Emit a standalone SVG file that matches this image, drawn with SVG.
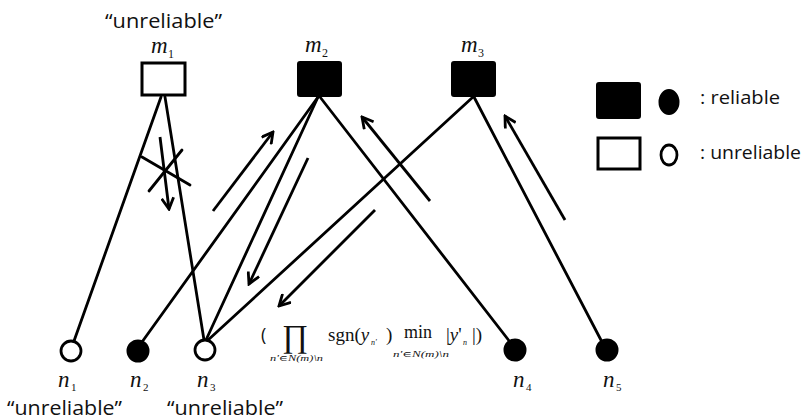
<svg xmlns="http://www.w3.org/2000/svg" width="810" height="420" viewBox="0 0 810 420">
  <defs>
    <marker id="head" viewBox="0 0 14 14" refX="12" refY="7" markerWidth="14" markerHeight="14" markerUnits="userSpaceOnUse" orient="auto">
      <polyline points="1,1 12,7 1,13" fill="none" stroke="#000" stroke-width="2.8" stroke-linejoin="miter"/>
    </marker>
  </defs>
  <style>
    .edge { stroke: #000; stroke-width: 2.8; fill: none; stroke-linecap: round; }
    .arrow { stroke: #000; stroke-width: 2.8; fill: none; marker-end: url(#head); }
    .box-open { fill: #fff; stroke: #000; stroke-width: 3; }
    .box-fill { fill: #000; stroke: #000; stroke-width: 2; }
    .dot-open { fill: #fff; stroke: #000; stroke-width: 2.8; }
    .dot-fill { fill: #000; stroke: #000; stroke-width: 2; }
    .word { font-family: "Open Sans", "Liberation Sans", sans-serif; fill: #111; }
    .math { font-family: "Liberation Serif", "DejaVu Serif", serif; fill: #111; }
    .it { font-style: italic; }
  </style>
  <rect width="810" height="420" fill="#fff"/>

  <!-- connectors -->
  <g id="connectors">
    <line class="edge" x1="161" y1="97" x2="74" y2="341"/>
    <line class="edge" x1="165" y1="97" x2="204" y2="340"/>
    <line class="edge" x1="318" y1="97" x2="142" y2="342"/>
    <line class="edge" x1="318" y1="97" x2="206" y2="340"/>
    <line class="edge" x1="320" y1="97" x2="510" y2="342"/>
    <line class="edge" x1="473" y1="97" x2="207" y2="341"/>
    <line class="edge" x1="474" y1="97" x2="602" y2="342"/>
    <!-- cancelled message from m1 -->
    <line class="edge" x1="142" y1="157" x2="190" y2="185"/>
    <line class="edge" x1="182" y1="150" x2="149" y2="191"/>
    <line class="arrow" x1="160" y1="137" x2="169" y2="209"/>
    <!-- message flow -->
    <line class="arrow" x1="213" y1="211" x2="273" y2="132"/>
    <line class="arrow" x1="308" y1="158" x2="249" y2="284"/>
    <line class="arrow" x1="375" y1="210" x2="279" y2="306"/>
    <line class="arrow" x1="430" y1="201" x2="362" y2="117"/>
    <line class="arrow" x1="565" y1="220" x2="505" y2="116"/>
  </g>

  <!-- check nodes -->
  <g id="m1">
    <text class="word" x="105" y="28" font-size="20" textLength="117" lengthAdjust="spacingAndGlyphs">“unreliable”</text>
    <text class="math it" x="151" y="53" font-size="23">m</text>
    <text class="math" x="168" y="58" font-size="12">1</text>
    <rect class="box-open" x="142" y="63" width="43" height="32"/>
  </g>
  <g id="m2">
    <text class="math it" x="305" y="52" font-size="23">m</text>
    <text class="math" x="322" y="57" font-size="12">2</text>
    <rect class="box-fill" x="298" y="62" width="43" height="34" rx="2"/>
  </g>
  <g id="m3">
    <text class="math it" x="461" y="52" font-size="23">m</text>
    <text class="math" x="478" y="57" font-size="12">3</text>
    <rect class="box-fill" x="452" y="62" width="43" height="34" rx="2"/>
  </g>

  <!-- variable nodes -->
  <g id="n1">
    <circle class="dot-open" cx="71" cy="351" r="10"/>
    <text class="math it" x="58" y="387" font-size="23">n</text>
    <text class="math" x="71" y="391" font-size="11">1</text>
    <text class="word" x="7" y="415" font-size="20" textLength="115" lengthAdjust="spacingAndGlyphs">“unreliable”</text>
  </g>
  <g id="n2">
    <circle class="dot-fill" cx="138" cy="351" r="10.5"/>
    <text class="math it" x="130" y="387" font-size="23">n</text>
    <text class="math" x="143" y="391" font-size="11">2</text>
  </g>
  <g id="n3">
    <circle class="dot-open" cx="205" cy="350" r="10"/>
    <text class="math it" x="197" y="387" font-size="23">n</text>
    <text class="math" x="210" y="391" font-size="11">3</text>
    <text class="word" x="167" y="415" font-size="20" textLength="116" lengthAdjust="spacingAndGlyphs">“unreliable”</text>
  </g>
  <g id="n4">
    <circle class="dot-fill" cx="515" cy="350" r="10.5"/>
    <text class="math it" x="513" y="387" font-size="23">n</text>
    <text class="math" x="526" y="391" font-size="11">4</text>
  </g>
  <g id="n5">
    <circle class="dot-fill" cx="607" cy="350" r="10.5"/>
    <text class="math it" x="603" y="387" font-size="23">n</text>
    <text class="math" x="616" y="391" font-size="11">5</text>
  </g>

  <!-- check-to-variable message formula -->
  <g id="formula">
    <text class="word" x="261" y="341" font-size="18">(</text>
    <text class="math" x="282" y="347" font-size="32">∏</text>
    <text class="math it" x="270" y="361" font-size="8" textLength="53" lengthAdjust="spacingAndGlyphs">n'∈N(m)\n</text>
    <text class="math" x="328" y="341" font-size="19">sgn(<tspan class="it">y</tspan></text>
    <text class="math it" x="371" y="345" font-size="8">n'</text>
    <text class="math" x="386" y="341" font-size="19">)</text>
    <text class="math" x="404" y="338" font-size="18">min</text>
    <text class="math it" x="393" y="357" font-size="8" textLength="56" lengthAdjust="spacingAndGlyphs">n'∈N(m)\n</text>
    <text class="math" x="446" y="341" font-size="19">|<tspan class="it">y</tspan>'</text>
    <text class="math it" x="463" y="345" font-size="8">n</text>
    <text class="math" x="472" y="341" font-size="19">|)</text>
  </g>

  <!-- legend -->
  <g id="legend">
    <rect class="box-fill" x="597" y="83" width="43" height="35" rx="2"/>
    <ellipse class="dot-fill" cx="669" cy="102" rx="9.5" ry="12"/>
    <text class="word" x="700" y="104" font-size="18" textLength="80" lengthAdjust="spacingAndGlyphs">: reliable</text>
    <rect class="box-open" x="598" y="138" width="42" height="31"/>
    <ellipse class="dot-open" cx="669" cy="155" rx="8" ry="10" stroke-width="3"/>
    <text class="word" x="700" y="159" font-size="18" textLength="101" lengthAdjust="spacingAndGlyphs">: unreliable</text>
  </g>
</svg>
